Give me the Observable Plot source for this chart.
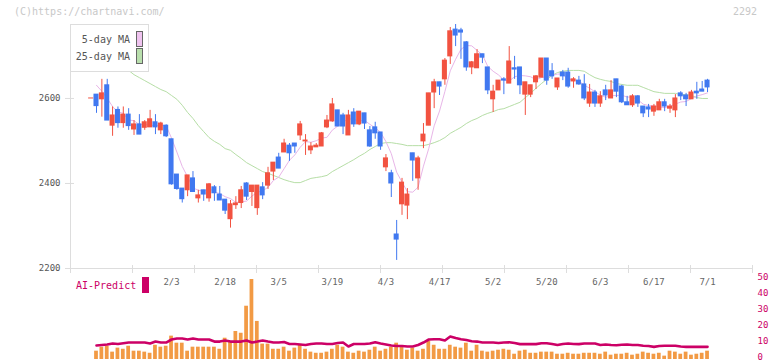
<!DOCTYPE html>
<html>
<head>
<meta charset="utf-8">
<script src="https://cdn.jsdelivr.net/npm/d3@7"></script>
<script src="https://cdn.jsdelivr.net/npm/@observablehq/plot@0.6"></script>
<style>
  body { margin: 0; background: #fff; }
  #wrap { position: relative; width: 772px; height: 361px; overflow: hidden; font-family: "DejaVu Sans Mono", monospace; }
  #wrap svg { position: absolute; left: 0; top: 0; }
  .abs { position: absolute; white-space: nowrap; }
</style>
</head>
<body>
<div id="wrap"></div>
<script>
// ---- data (day index 0 = first candle) ----
const opens = [
2600,2609,2598,2631,2536,2573,2542,2562,2527,2539,
2531,2532,2544,2525,2536,2504,2421,2388,2384,2412,
2365,2384,2365,2391,2374,2362,2316,2349,2354,2400,
2380,2342,2391,2395,2428,2461,2473,2489,2494,2513,
2499,2478,2485,2487,2532,2546,2572,2560,2513,2567,
2539,2565,2525,2532,2520,2438,2424,2280,2351,2348,
2471,2412,2499,2536,2614,2638,2645,2699,2762,2760,
2732,2673,2671,2704,2673,2598,2619,2645,2635,2671,
2673,2609,2609,2638,2649,2694,2664,2626,2661,2661,
2640,2642,2633,2588,2614,2588,2619,2600,2645,2628,
2591,2584,2605,2581,2579,2569,2572,2591,2576,2572,
2612,2607,2598,2616,2621,2642];
const highs = [
2600,2609,2645,2645,2580,2580,2580,2576,2548,2562,
2548,2572,2562,2544,2538,2504,2421,2388,2419,2428,
2384,2384,2400,2395,2393,2362,2360,2369,2393,2402,
2395,2395,2402,2438,2449,2471,2504,2494,2494,2546,
2515,2496,2494,2520,2560,2600,2572,2565,2572,2576,
2569,2565,2534,2544,2520,2468,2431,2313,2412,2388,
2471,2464,2541,2612,2645,2638,2694,2767,2774,2765,
2734,2687,2715,2704,2673,2631,2642,2649,2722,2699,
2673,2638,2631,2654,2694,2694,2682,2647,2666,2671,
2649,2652,2656,2633,2619,2616,2631,2642,2645,2631,
2605,2609,2607,2581,2586,2586,2598,2598,2586,2609,
2616,2612,2619,2638,2640,2645];
const lows = [
2600,2565,2556,2548,2511,2530,2530,2525,2513,2515,
2525,2532,2515,2515,2508,2396,2384,2354,2369,2380,
2354,2358,2356,2358,2360,2327,2295,2339,2341,2360,
2346,2325,2362,2386,2407,2435,2473,2452,2471,2501,
2466,2468,2485,2487,2529,2544,2534,2515,2513,2532,
2536,2527,2485,2504,2478,2428,2367,2219,2325,2315,
2405,2384,2482,2536,2576,2607,2631,2680,2722,2692,
2664,2656,2671,2682,2609,2567,2619,2609,2635,2645,
2609,2560,2602,2621,2649,2631,2645,2619,2642,2624,
2624,2631,2595,2579,2579,2579,2595,2600,2602,2588,
2584,2579,2579,2555,2555,2558,2572,2569,2565,2555,
2595,2581,2598,2598,2616,2614];
const closes = [
2600,2582,2612,2548,2560,2542,2562,2535,2539,2515,
2544,2551,2532,2541,2511,2398,2387,2363,2419,2380,
2372,2374,2398,2377,2360,2336,2351,2353,2384,2369,
2395,2395,2372,2424,2449,2435,2494,2471,2487,2539,
2501,2487,2489,2518,2548,2586,2534,2534,2560,2539,
2569,2541,2487,2518,2487,2459,2400,2268,2402,2374,
2454,2459,2515,2612,2638,2628,2689,2758,2748,2755,
2673,2685,2704,2696,2619,2616,2642,2642,2687,2668,
2631,2638,2631,2652,2694,2642,2652,2647,2652,2628,
2645,2633,2600,2614,2588,2605,2607,2619,2616,2591,
2584,2605,2588,2565,2574,2581,2591,2581,2581,2600,
2605,2598,2614,2612,2616,2626];

// 5-day MA values read where the window reaches before the first candle (days 1-4)
const ma5Lead = [2631, 2617, 2600, 2581];

// 25-day MA (days 1..115)
const ma25 = [
2708,2701,2694,2687,2680,2673,2666,2656,2649,2642,
2635,2628,2621,2616,2607,2598,2584,2567,2553,2536,
2522,2508,2499,2492,2482,2478,2468,2459,2449,2442,
2435,2428,2424,2419,2414,2409,2405,2402,2402,2407,
2412,2414,2416,2419,2428,2435,2442,2449,2456,2464,
2471,2480,2487,2494,2496,2496,2494,2492,2489,2489,
2489,2489,2492,2496,2501,2508,2518,2525,2532,2541,
2548,2553,2560,2565,2569,2574,2576,2581,2586,2591,
2602,2612,2624,2635,2645,2654,2661,2664,2666,2666,
2666,2664,2656,2649,2645,2642,2640,2635,2633,2631,
2631,2631,2626,2621,2616,2614,2612,2612,2612,2609,
2609,2607,2602,2600,2600];

// lower panel: bars (days 1..115) and AI-Predict line (days 1..115), 0-50 scale
const volume = [
5.2,7.7,8.3,4.6,7.1,6.4,8.3,5.2,5.2,4.6,
3.9,8.9,7.7,8.3,14.6,10.2,10.2,5.2,7.7,7.7,
7.7,7.7,7.7,6.4,13.3,10.8,17.5,16.4,33.3,50,
23.8,9.6,9.6,6.4,6.4,7.7,5.2,7.1,8.9,6.4,
4.6,3.9,3.9,4.6,6.4,8.9,7.7,4.6,3.9,5.2,
4.6,5.8,7.7,5.2,6.4,7.7,10.2,8.3,5.8,7.1,
5.2,6.4,11.4,8.9,6.4,6.4,8.9,7.7,7.1,10.2,
5.2,8.9,5.2,4.6,5.2,5.8,6.4,5.8,3.3,5.2,
5.8,3.9,3.9,4.6,4.6,4.6,3.3,3.3,3.9,3.3,
3.3,3.9,3.9,3.9,3.3,4.6,2.7,3.3,3.3,3.9,
2.7,3.3,4.6,3.9,3.3,3.9,2.1,5.2,4.6,3.3,
4.6,2.7,3.3,3.9,5.2];
const aiPredict = [
8.8,9.1,9.4,10.0,9.7,10.2,10.6,10.6,10.6,10.6,
10.0,11.2,10.6,10.6,12.5,13.1,13.1,12.5,13.1,12.5,
12.5,12.5,11.2,11.2,11.9,11.2,11.2,11.2,11.9,10.6,
11.2,11.9,11.2,10.6,10.6,10.9,9.7,9.7,9.4,9.1,
9.7,10.0,10.0,9.7,9.7,10.3,10.6,8.1,9.7,9.7,
9.7,10.0,10.8,10.0,9.4,8.8,8.4,8.4,8.1,8.1,
9.1,10.6,12.5,12.7,12.7,11.9,14.4,13.4,12.7,12.2,
11.4,11.2,10.6,10.6,10.6,10.3,10.6,10.8,10.3,9.6,
9.6,9.6,9.6,10.2,10.2,9.7,9.1,9.7,10.0,9.7,
9.6,10.0,10.0,10.0,9.1,9.4,9.1,8.9,9.2,9.4,
9.1,9.1,8.6,8.4,7.9,8.4,8.6,8.6,8.6,8.1,
7.9,7.9,7.9,7.9,7.9];

const dateLabels = ["2/3","2/18","3/5","3/19","4/3","4/17","5/2","5/20","6/3","6/17","7/1"];
const dateLabelDays = [15,25,35,45,55,65,75,85,95,105,115];
const priceTicks = [2200, 2400, 2600];
const rightTicks = [0, 10, 20, 30, 40, 50];

// ---- build ----
const RED = "#f25240", BLUE = "#4078f0";
const GRID = "#dddddd";
const FONT = "DejaVu Sans Mono";
const xDomain = [-3.851, 123.388];
const pxPerDay = 682 / (xDomain[1] - xDomain[0]);
const pxPerYen = 244 / 574;
const gridTicks = d3.range(12).map(j => xDomain[0] + j * (xDomain[1] - xDomain[0]) / 11);

const candles = opens.map((o, k) => ({k, o, h: highs[k], l: lows[k], c: closes[k]}));
const upC = candles.filter(d => d.c >= d.o);
const dnC = candles.filter(d => d.c < d.o);
const ma25Rows = ma25.map((v, j) => ({k: j + 1, v}));
const leadRows = ma5Lead.map((v, j) => ({k: j + 1, v}));
const volRows = volume.map((v, j) => ({k: j + 1, v}));
const aiRows = aiPredict.map((v, j) => ({k: j + 1, v}));

const pricePlot = Plot.plot({
  width: 772, height: 361,
  marginLeft: 70, marginRight: 20, marginTop: 24, marginBottom: 93,
  x: {domain: xDomain, axis: null},
  y: {domain: [2200, 2774], axis: null},
  style: {background: "transparent", overflow: "visible", fontFamily: FONT},
  marks: [
    Plot.ruleX([xDomain[0]], {stroke: GRID}),
    Plot.ruleY([2200], {stroke: GRID}),
    Plot.ruleY(priceTicks, {y: d => d, x1: xDomain[0] - 5 / pxPerDay, x2: xDomain[0] + 4 / pxPerDay, stroke: GRID}),
    Plot.ruleX(gridTicks, {x: d => d, y1: 2200 + 3 / pxPerYen, y2: 2200 - 5 / pxPerYen, stroke: GRID}),
    Plot.text(priceTicks, {y: d => d, text: d => String(d), frameAnchor: "left", textAnchor: "end", dx: -10, fill: "#555", fontSize: 9, fontFamily: FONT}),
    Plot.text(dateLabels, {x: (d, j) => dateLabelDays[j], y: () => 2200, dy: 14, text: d => d, fill: "#666", fontSize: 9, fontFamily: FONT}),
    Plot.line(ma25Rows, {x: "k", y: "v", stroke: "#b6dea6", strokeWidth: 1}),
    Plot.line(leadRows, {x: "k", y: "v", stroke: "#e8b6e8", strokeWidth: 1}),
    Plot.line(candles, Plot.windowY({k: 5, anchor: "end", reduce: "mean", strict: true}, {x: "k", y: "c", stroke: "#e8b6e8", strokeWidth: 1})),
    Plot.ruleX(upC, {x: "k", y1: "l", y2: "h", stroke: RED, strokeWidth: 1}),
    Plot.ruleX(dnC, {x: "k", y1: "l", y2: "h", stroke: BLUE, strokeWidth: 1}),
    Plot.rect(upC, {x1: d => d.k - 0.47, x2: d => d.k + 0.47, y1: "o", y2: "c", fill: RED, insetTop: -0.5, insetBottom: -0.5}),
    Plot.rect(dnC, {x1: d => d.k - 0.47, x2: d => d.k + 0.47, y1: "o", y2: "c", fill: BLUE, insetTop: -0.5, insetBottom: -0.5})
  ]
});

const lowerPlot = Plot.plot({
  width: 772, height: 361,
  marginLeft: 70, marginRight: 20, marginTop: 279, marginBottom: 2,
  x: {domain: xDomain, axis: null},
  y: {domain: [0, 50], axis: null},
  style: {background: "transparent", overflow: "visible", fontFamily: FONT},
  marks: [
    Plot.rectY(volRows, {x1: d => d.k - 0.35, x2: d => d.k + 0.35, y: "v", fill: "#f29a44"}),
    Plot.line(aiRows, {x: "k", y: "v", stroke: "#cc0066", strokeWidth: 2.6, strokeLinejoin: "round"}),
    Plot.text(rightTicks, {y: d => d, text: d => String(d), frameAnchor: "right", textAnchor: "start", dx: 5, dy: -2.5, fill: "#cc0066", fontSize: 9, fontFamily: FONT})
  ]
});

const wrap = document.getElementById("wrap");
wrap.appendChild(lowerPlot);
wrap.appendChild(pricePlot);

function addDiv(html, css) {
  const d = document.createElement("div");
  d.className = "abs";
  d.style.cssText += css;
  d.innerHTML = html;
  wrap.appendChild(d);
  return d;
}
// watermark and code
addDiv("(C)https://chartnavi.com/", "left:14px;top:6px;font-size:10px;line-height:12px;color:#c8c8c8;");
addDiv("2292", "left:733px;top:6px;font-size:10px;line-height:12px;color:#c8c8c8;");
// legend box
addDiv("", "left:70px;top:24px;width:79px;height:48px;box-sizing:border-box;background:#fff;border:1px solid #dddddd;");
addDiv("5-day MA", "left:70px;width:60px;text-align:right;top:34px;font-size:10px;line-height:12px;color:#555;");
addDiv("25-day MA", "left:70px;width:60px;text-align:right;top:51px;font-size:10px;line-height:12px;color:#555;");
addDiv("", "left:136px;top:31px;width:7px;height:16px;box-sizing:border-box;background:#efc3ef;border:1px solid #666;");
addDiv("", "left:136px;top:48px;width:7px;height:16px;box-sizing:border-box;background:#b9dfad;border:1px solid #666;");
// AI-Predict label
addDiv("AI-Predict", "left:76px;top:280px;font-size:10px;line-height:12px;color:#cc0066;");
addDiv("", "left:142px;top:277px;width:7px;height:16px;background:#cc0066;");
</script>
</body>
</html>
